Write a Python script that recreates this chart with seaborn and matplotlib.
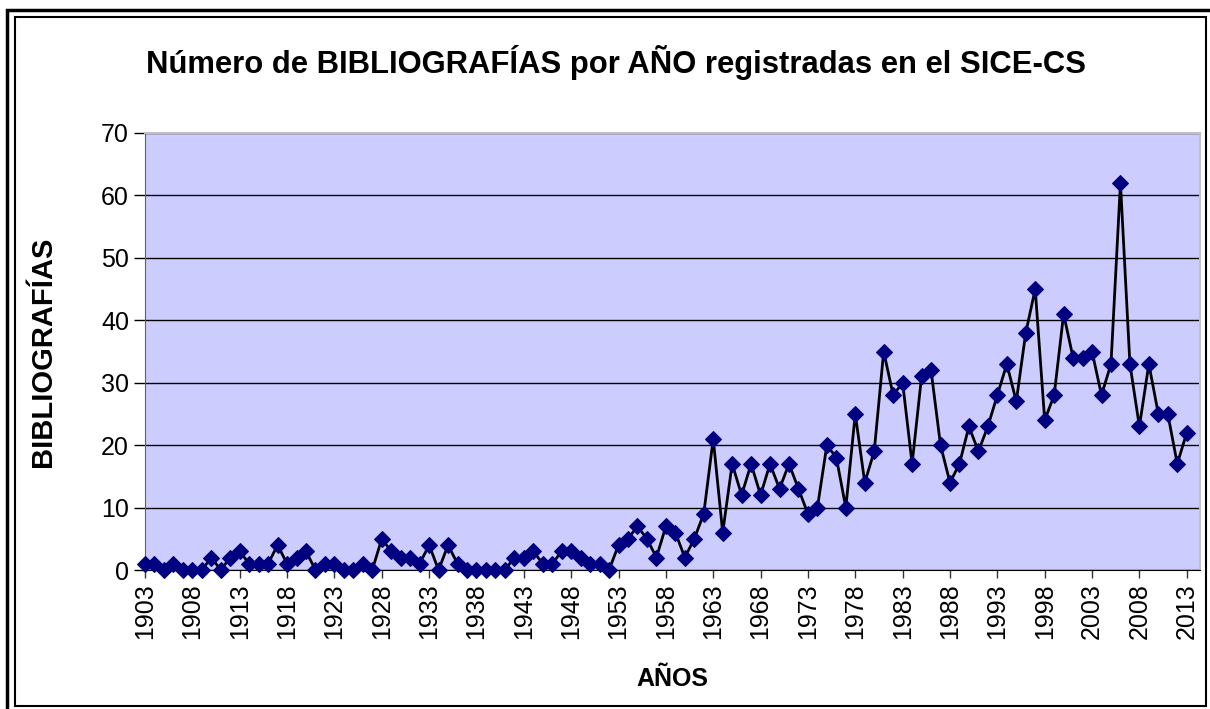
import numpy as np
import pandas as pd
import matplotlib
matplotlib.use("Agg")
import matplotlib.pyplot as plt
import seaborn as sns
from matplotlib.patches import Rectangle

# Data
years = list(range(1903, 2014))
counts = [1, 1, 0, 1, 0, 0, 0, 2, 0, 2,          # 1903-1912
          3, 1, 1, 1, 4, 1, 2, 3, 0, 1,          # 1913-1922
          1, 0, 0, 1, 0, 5, 3, 2, 2, 1,          # 1923-1932
          4, 0, 4, 1, 0, 0, 0, 0, 0, 2,          # 1933-1942
          2, 3, 1, 1, 3, 3, 2, 1, 1, 0,          # 1943-1952
          4, 5, 7, 5, 2, 7, 6, 2, 5, 9,          # 1953-1962
          21, 6, 17, 12, 17, 12, 17, 13, 17, 13,  # 1963-1972
          9, 10, 20, 18, 10, 25, 14, 19, 35, 28,  # 1973-1982
          30, 17, 31, 32, 20, 14, 17, 23, 19, 23,  # 1983-1992
          28, 33, 27, 38, 45, 24, 28, 41, 34, 34,  # 1993-2002
          35, 28, 33, 62, 33, 23, 33, 25, 25, 17,  # 2003-2012
          22]                                    # 2013
tick_years = list(range(1903, 2014, 5))

df = pd.DataFrame({"Año": years, "Bibliografías": counts})

sns.set_style("white")
plt.rcParams["font.family"] = ["Liberation Sans", "DejaVu Sans"]
plt.rcParams["text.color"] = "black"
plt.rcParams["axes.labelcolor"] = "black"
plt.rcParams["xtick.color"] = "black"
plt.rcParams["ytick.color"] = "black"

fig = plt.figure(figsize=(12.1, 7.09), dpi=100)
W, H = 1210, 709

# double frame around the chart
fig.patches.append(Rectangle((7 / W, -0.02), 1.1, (709 - 10) / H + 0.02, transform=fig.transFigure,
                             fill=False, edgecolor="black", linewidth=2.5))
fig.patches.append(Rectangle((15 / W, (709 - 706) / H), (1206 - 15) / W, (706 - 17) / H,
                             transform=fig.transFigure, fill=False, edgecolor="black", linewidth=1.5))

ax = fig.add_axes([145 / W, (709 - 570) / H, (1200 - 145) / W, (570 - 133) / H])
ax.set_facecolor("#CCCCFF")

sns.lineplot(data=df, x="Año", y="Bibliografías", ax=ax, color="black", linewidth=2,
             marker="D", markersize=8, markerfacecolor="#000080", markeredgecolor="#000080",
             clip_on=False, zorder=5)

ax.set_xlim(1903, 2014.4)
ax.set_ylim(0, 70)
ax.set_yticks(range(0, 71, 10))
ax.set_xticks(tick_years)
ax.set_xticklabels([str(y) for y in tick_years], rotation=90, fontsize=18)
ax.tick_params(axis="y", labelsize=18, length=8, width=1, direction="out", left=True, color="black")
ax.tick_params(axis="x", length=6, width=1, direction="out", bottom=True, color="#333333")
ax.yaxis.grid(True, color="black", linewidth=1)
ax.set_axisbelow(True)

for side in ["top", "right"]:
    ax.spines[side].set_color("#C0C0C0")
    ax.spines[side].set_linewidth(1.5)
ax.spines["left"].set_color("#606060")
ax.spines["bottom"].set_color("black")

ax.set_xlabel("AÑOS", fontsize=18, fontweight="bold", labelpad=20)
ax.set_ylabel("BIBLIOGRAFÍAS", fontsize=21, fontweight="bold", labelpad=32)

fig.text(616 / W, 1 - 62 / H, "Número de BIBLIOGRAFÍAS por AÑO registradas en el SICE-CS",
         ha="center", va="center", fontsize=22.3, fontweight="bold")

fig.savefig("out.png", dpi=100)
